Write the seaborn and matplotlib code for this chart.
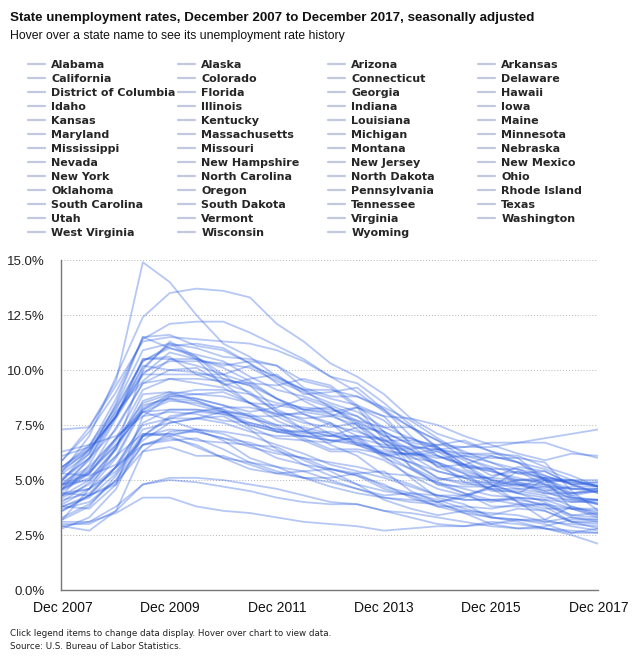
import pandas as pd
import seaborn as sns
import matplotlib.pyplot as plt
from matplotlib.lines import Line2D

# semi-annual readings, Dec 2007 .. Dec 2017
periods = pd.date_range('2007-12-01', '2017-12-01', freq='6MS')

states = ['Alabama', 'Alaska', 'Arizona', 'Arkansas', 'California', 'Colorado', 'Connecticut', 'Delaware',
          'District of Columbia', 'Florida', 'Georgia', 'Hawaii', 'Idaho', 'Illinois', 'Indiana', 'Iowa',
          'Kansas', 'Kentucky', 'Louisiana', 'Maine', 'Maryland', 'Massachusetts', 'Michigan', 'Minnesota',
          'Mississippi', 'Missouri', 'Montana', 'Nebraska', 'Nevada', 'New Hampshire', 'New Jersey',
          'New Mexico', 'New York', 'North Carolina', 'North Dakota', 'Ohio', 'Oklahoma', 'Oregon',
          'Pennsylvania', 'Rhode Island', 'South Carolina', 'South Dakota', 'Tennessee', 'Texas', 'Utah',
          'Vermont', 'Virginia', 'Washington', 'West Virginia', 'Wisconsin', 'Wyoming']

rates = [
    [4.0, 4.9, 6.4, 10.0, 11.3, 10.6, 9.6, 9.3, 8.2, 7.7, 7.1, 6.6, 6.1, 6.2, 6.0, 6.1, 6.0, 6.0, 5.8, 4.5, 3.6],
    [6.3, 6.6, 7.0, 7.9, 8.1, 8.0, 7.7, 7.6, 7.3, 7.2, 7.0, 7.0, 6.8, 6.8, 6.6, 6.5, 6.5, 6.7, 6.9, 7.1, 7.3],
    [4.3, 5.7, 7.8, 9.8, 10.8, 10.5, 10.1, 9.5, 8.7, 8.2, 8.0, 7.7, 7.4, 6.9, 6.4, 6.1, 5.8, 5.3, 5.1, 4.9, 4.7],
    [5.3, 5.2, 5.7, 7.5, 7.8, 8.1, 8.3, 8.3, 8.0, 7.6, 7.4, 7.6, 7.1, 6.1, 5.4, 5.1, 4.6, 4.0, 3.7, 3.7, 3.7],
    [5.9, 7.2, 9.0, 11.4, 12.1, 12.2, 12.2, 11.7, 11.1, 10.5, 9.7, 9.0, 8.1, 7.4, 6.8, 6.3, 5.8, 5.5, 5.2, 4.8, 4.4],
    [4.2, 4.8, 6.1, 8.3, 8.8, 8.9, 9.0, 8.5, 8.0, 8.0, 7.6, 7.0, 6.1, 5.1, 4.2, 3.9, 3.3, 3.2, 3.0, 2.6, 2.8],
    [4.8, 5.5, 6.9, 8.2, 8.9, 9.1, 9.1, 8.9, 8.5, 8.3, 8.2, 7.9, 7.2, 6.6, 6.3, 5.6, 5.4, 5.1, 4.8, 4.6, 4.5],
    [3.9, 4.6, 6.0, 8.2, 8.7, 8.4, 8.1, 7.5, 7.2, 7.0, 7.0, 6.8, 6.2, 5.8, 5.1, 4.9, 4.9, 4.6, 4.4, 4.4, 4.5],
    [5.6, 6.4, 7.9, 9.8, 9.8, 9.8, 9.8, 10.2, 9.7, 9.1, 8.7, 8.4, 7.9, 7.8, 7.5, 7.0, 6.6, 6.2, 5.9, 6.2, 6.1],
    [4.6, 6.0, 8.2, 10.4, 11.1, 11.2, 11.0, 10.3, 9.4, 8.6, 8.0, 7.3, 6.5, 6.3, 5.8, 5.4, 5.0, 4.8, 4.8, 4.1, 3.9],
    [5.0, 6.0, 8.0, 9.9, 10.4, 10.4, 10.3, 10.1, 9.5, 9.0, 8.5, 8.1, 7.4, 7.4, 6.8, 6.0, 5.6, 5.3, 5.4, 4.8, 4.4],
    [3.2, 3.8, 5.2, 7.0, 7.1, 6.8, 6.7, 6.6, 6.5, 5.9, 5.4, 4.8, 4.5, 4.3, 4.0, 3.5, 3.3, 3.1, 2.8, 2.5, 2.1],
    [3.2, 4.6, 6.5, 8.6, 9.0, 8.9, 8.8, 8.5, 7.9, 7.3, 6.6, 6.1, 5.2, 4.8, 4.3, 4.1, 4.1, 3.9, 3.6, 3.1, 3.0],
    [5.4, 6.4, 7.9, 10.1, 11.2, 10.5, 9.3, 9.6, 9.8, 8.9, 9.0, 9.2, 8.2, 7.0, 6.1, 5.7, 6.1, 5.8, 5.2, 4.8, 4.9],
    [4.8, 5.9, 7.9, 10.2, 10.0, 10.1, 9.4, 8.5, 8.4, 8.2, 8.3, 7.6, 6.7, 6.0, 5.8, 4.9, 4.6, 4.4, 4.0, 3.4, 3.5],
    [3.8, 4.3, 4.9, 6.3, 6.5, 6.1, 6.1, 5.7, 5.3, 5.1, 4.9, 4.6, 4.3, 4.4, 4.1, 3.7, 3.4, 3.7, 3.6, 3.1, 2.8],
    [4.3, 4.6, 5.4, 7.1, 7.1, 7.2, 6.9, 6.7, 6.3, 6.0, 5.5, 5.3, 4.7, 4.4, 4.3, 4.3, 4.0, 4.2, 4.1, 3.7, 3.4],
    [5.5, 6.3, 7.9, 10.5, 10.5, 10.2, 9.8, 9.4, 8.7, 8.2, 8.1, 8.3, 7.9, 6.6, 5.6, 5.1, 5.1, 5.0, 4.9, 5.0, 4.7],
    [4.1, 4.4, 5.6, 6.8, 7.6, 7.8, 8.1, 8.0, 7.5, 6.9, 6.4, 6.4, 6.2, 6.2, 6.4, 6.2, 6.2, 6.1, 5.6, 5.2, 4.7],
    [4.9, 5.6, 6.9, 8.1, 8.2, 8.2, 8.0, 7.8, 7.5, 7.4, 7.1, 6.7, 6.2, 5.5, 4.8, 4.4, 3.8, 3.8, 3.9, 3.4, 3.3],
    [3.6, 4.3, 5.6, 7.3, 7.6, 7.8, 7.6, 7.2, 7.0, 7.0, 6.8, 6.6, 6.2, 5.8, 5.4, 5.1, 4.8, 4.4, 4.2, 4.1, 4.1],
    [4.6, 5.1, 6.4, 8.4, 8.7, 8.6, 8.2, 7.4, 6.9, 6.8, 6.7, 7.0, 6.9, 5.9, 5.1, 4.8, 4.8, 4.0, 3.2, 3.8, 3.5],
    [7.3, 7.4, 9.5, 14.9, 14.0, 12.5, 11.2, 10.6, 9.7, 9.1, 9.1, 8.8, 8.2, 7.4, 6.5, 5.5, 5.0, 4.7, 5.1, 4.4, 4.6],
    [4.6, 5.4, 6.6, 8.1, 7.7, 7.3, 7.1, 6.6, 6.0, 5.7, 5.5, 5.2, 4.8, 4.2, 3.8, 3.8, 3.7, 3.9, 3.9, 3.3, 3.2],
    [6.1, 6.5, 8.1, 9.5, 10.5, 10.5, 10.2, 10.4, 10.2, 9.2, 8.8, 8.8, 8.3, 7.7, 6.9, 6.2, 6.1, 5.8, 5.5, 5.0, 4.7],
    [5.1, 6.0, 7.3, 9.4, 9.6, 9.4, 9.2, 8.5, 7.7, 7.2, 6.8, 6.7, 6.3, 6.2, 5.7, 5.3, 4.5, 4.5, 4.3, 3.8, 3.4],
    [3.6, 4.3, 5.6, 6.6, 7.0, 7.3, 7.2, 7.0, 6.6, 6.2, 5.7, 5.4, 5.1, 4.7, 4.3, 4.1, 4.1, 4.2, 4.1, 4.0, 4.0],
    [2.9, 3.1, 3.8, 4.8, 5.0, 4.9, 4.7, 4.5, 4.2, 4.0, 3.9, 3.9, 3.6, 3.3, 3.0, 2.9, 3.0, 3.2, 3.2, 2.9, 2.7],
    [5.4, 7.0, 9.7, 12.4, 13.5, 13.7, 13.6, 13.3, 12.1, 11.3, 10.3, 9.7, 8.9, 7.8, 7.1, 6.7, 6.3, 5.8, 5.0, 4.9, 4.9],
    [3.7, 4.0, 5.0, 6.6, 6.9, 6.6, 6.0, 5.5, 5.3, 5.4, 5.5, 5.2, 4.6, 4.3, 3.8, 3.5, 3.0, 2.8, 2.8, 2.7, 2.6],
    [4.5, 5.3, 6.9, 9.1, 9.6, 9.6, 9.5, 9.4, 9.3, 9.6, 9.3, 8.4, 7.2, 6.6, 6.1, 5.7, 5.0, 4.9, 4.7, 4.6, 4.6],
    [3.8, 4.2, 5.3, 7.0, 7.9, 8.1, 8.0, 7.5, 7.2, 7.0, 6.8, 6.9, 6.6, 6.5, 6.4, 6.5, 6.7, 6.7, 6.7, 6.3, 6.0],
    [4.8, 5.3, 6.8, 8.5, 8.9, 8.7, 8.4, 8.1, 8.3, 8.7, 8.3, 7.7, 7.0, 6.4, 5.8, 5.3, 4.9, 4.8, 4.5, 4.7, 4.7],
    [5.0, 6.2, 8.4, 10.9, 11.2, 11.0, 10.6, 10.5, 10.2, 9.5, 9.2, 8.3, 6.8, 6.4, 5.6, 5.7, 5.4, 5.0, 5.0, 4.3, 4.5],
    [3.1, 3.1, 3.5, 4.2, 4.2, 3.8, 3.6, 3.5, 3.3, 3.1, 3.0, 2.9, 2.7, 2.8, 2.9, 2.9, 3.1, 3.0, 2.8, 2.6, 2.6],
    [5.6, 6.6, 8.3, 10.4, 11.0, 10.6, 9.8, 8.9, 8.1, 7.3, 7.0, 7.4, 7.2, 5.6, 4.8, 4.7, 4.7, 5.0, 5.1, 5.0, 4.7],
    [3.8, 3.7, 4.8, 6.6, 6.8, 6.9, 6.4, 5.8, 5.4, 5.1, 5.1, 5.3, 5.4, 4.5, 4.0, 4.3, 4.7, 4.8, 4.6, 4.2, 3.9],
    [5.3, 6.2, 8.5, 11.5, 11.0, 10.7, 10.4, 9.7, 9.1, 8.8, 8.4, 7.9, 7.0, 6.9, 6.5, 5.7, 5.5, 4.8, 4.4, 4.2, 4.1],
    [4.6, 5.3, 6.6, 8.1, 8.6, 8.5, 8.2, 7.9, 7.9, 8.1, 7.9, 7.5, 6.7, 5.6, 5.0, 5.2, 5.1, 5.6, 5.4, 4.8, 4.8],
    [5.9, 7.4, 9.3, 11.3, 11.5, 11.4, 11.3, 11.2, 10.9, 10.4, 9.7, 9.4, 8.5, 7.5, 6.4, 5.9, 5.2, 5.4, 4.8, 4.4, 4.5],
    [5.6, 6.5, 8.7, 11.5, 11.6, 11.1, 10.9, 10.3, 9.6, 9.1, 8.3, 7.5, 6.4, 6.1, 6.3, 6.0, 5.5, 4.9, 4.5, 4.0, 4.1],
    [3.0, 3.0, 3.6, 4.8, 5.1, 5.1, 5.0, 4.8, 4.6, 4.3, 4.0, 3.9, 3.6, 3.5, 3.3, 3.1, 2.9, 2.8, 2.9, 3.2, 3.2],
    [5.0, 6.4, 7.9, 10.5, 10.6, 9.8, 9.4, 9.0, 8.1, 7.8, 7.9, 8.3, 7.7, 6.7, 6.5, 5.7, 4.8, 4.4, 5.0, 3.7, 3.3],
    [4.4, 4.6, 5.6, 7.6, 8.2, 8.2, 8.1, 7.9, 7.4, 6.8, 6.3, 6.3, 5.9, 5.2, 4.6, 4.3, 4.6, 4.6, 4.7, 4.3, 3.9],
    [2.8, 3.3, 4.6, 7.0, 7.8, 7.8, 7.9, 7.3, 6.4, 5.7, 5.2, 4.8, 4.1, 3.7, 3.4, 3.6, 3.5, 3.4, 3.1, 3.3, 3.1],
    [4.3, 5.0, 6.1, 7.1, 7.0, 6.5, 6.0, 5.8, 5.6, 5.1, 4.7, 4.4, 4.2, 4.0, 3.9, 3.6, 3.3, 3.2, 3.1, 3.0, 2.9],
    [3.3, 3.9, 5.0, 7.0, 7.3, 7.2, 6.9, 6.5, 6.2, 6.0, 5.8, 5.6, 5.3, 5.2, 4.9, 4.4, 4.1, 4.1, 3.9, 3.7, 3.6],
    [4.7, 5.4, 7.4, 9.4, 10.0, 9.9, 9.6, 9.3, 8.7, 8.0, 7.5, 7.2, 6.8, 6.2, 6.1, 5.6, 5.5, 5.5, 5.0, 4.6, 4.6],
    [4.4, 4.3, 4.8, 7.9, 8.8, 8.7, 8.4, 7.9, 7.2, 7.2, 7.6, 6.6, 6.5, 6.4, 6.6, 6.8, 6.3, 6.0, 5.0, 5.0, 5.0],
    [4.8, 5.0, 6.5, 8.9, 9.0, 8.6, 8.1, 7.6, 7.3, 7.1, 7.2, 6.9, 6.0, 5.5, 4.9, 4.6, 4.3, 4.2, 3.8, 3.1, 3.1],
    [2.9, 2.7, 3.6, 6.3, 7.2, 7.3, 6.8, 6.0, 5.6, 5.4, 5.0, 4.6, 4.2, 4.1, 4.0, 4.2, 4.7, 5.4, 5.1, 4.2, 4.1],
]

y_ticks = [0, 2.5, 5, 7.5, 10, 12.5, 15]
x_ticks = ['2007-12-01', '2009-12-01', '2011-12-01', '2013-12-01', '2015-12-01', '2017-12-01']

rows = []
for st, vals in zip(states, rates):
    for d, v in zip(periods, vals):
        rows.append((st, d, v))
df = pd.DataFrame(rows, columns=['state', 'date', 'rate'])

sns.set_style('white')
plt.rcParams['font.family'] = ['Liberation Sans', 'DejaVu Sans']

fig = plt.figure(figsize=(6.4, 6.6), dpi=100)
ax = fig.add_axes([0.095, 0.106, 0.840, 0.5])

line_color = '#2d5fe0'
sns.lineplot(data=df, x='date', y='rate', hue='state', palette=[line_color] * len(states),
             alpha=0.35, linewidth=1.3, legend=False, ax=ax)

ax.set_ylim(0, 15)
ax.set_xlim(pd.Timestamp('2007-11-20'), pd.Timestamp('2017-12-01'))
ax.set_yticks(y_ticks)
ax.set_yticklabels([f'{t:.1f}%' for t in y_ticks], fontsize=9.5, color='#222222')
ax.set_xticks(pd.to_datetime(x_ticks))
ax.set_xticklabels([pd.Timestamp(t).strftime('Dec %Y') for t in x_ticks], fontsize=10, color='#111111')
ax.set_xlabel('')
ax.set_ylabel('')
ax.grid(axis='y', color='#b5b5b5', linestyle=(0, (1, 2)), linewidth=0.7)
ax.set_axisbelow(True)
for side in ['top', 'right']:
    ax.spines[side].set_visible(False)
for side in ['left', 'bottom']:
    ax.spines[side].set_color('#777777')
    ax.spines[side].set_linewidth(1.0)
ax.tick_params(axis='x', length=5, color='#aaaaaa', width=0.8, pad=3)
ax.tick_params(axis='y', length=0, pad=11.5)

# legend: four fixed-width columns, filled row by row
handle_color = '#c2c9de'
col_x = [28, 178, 328, 478]
for c, x0 in enumerate(col_x):
    names = states[c::4]
    handles = [Line2D([], [], color=handle_color, linewidth=1.6) for _ in names]
    fig.legend(handles, names, loc='upper left', bbox_to_anchor=(x0 / 640, 1 - 60 / 660),
               frameon=False, prop={'family': 'DejaVu Sans', 'weight': 'bold', 'size': 8.0},
               handlelength=1.5, handletextpad=0.6, labelspacing=0.36,
               borderaxespad=0, borderpad=0)

fig.text(0.016, 0.973, 'State unemployment rates, December 2007 to December 2017, seasonally adjusted',
         fontsize=9.6, fontweight='bold', va='center', color='#111111')
fig.text(0.016, 0.945, 'Hover over a state name to see its unemployment rate history',
         fontsize=8.8, va='center', color='#111111')
fig.text(0.016, 0.040, 'Click legend items to change data display. Hover over chart to view data.',
         fontsize=6.3, family='DejaVu Sans', va='center', color='#222222')
fig.text(0.016, 0.020, 'Source: U.S. Bureau of Labor Statistics.',
         fontsize=6.3, family='DejaVu Sans', va='center', color='#222222')

fig.savefig('out.png', dpi=100)
